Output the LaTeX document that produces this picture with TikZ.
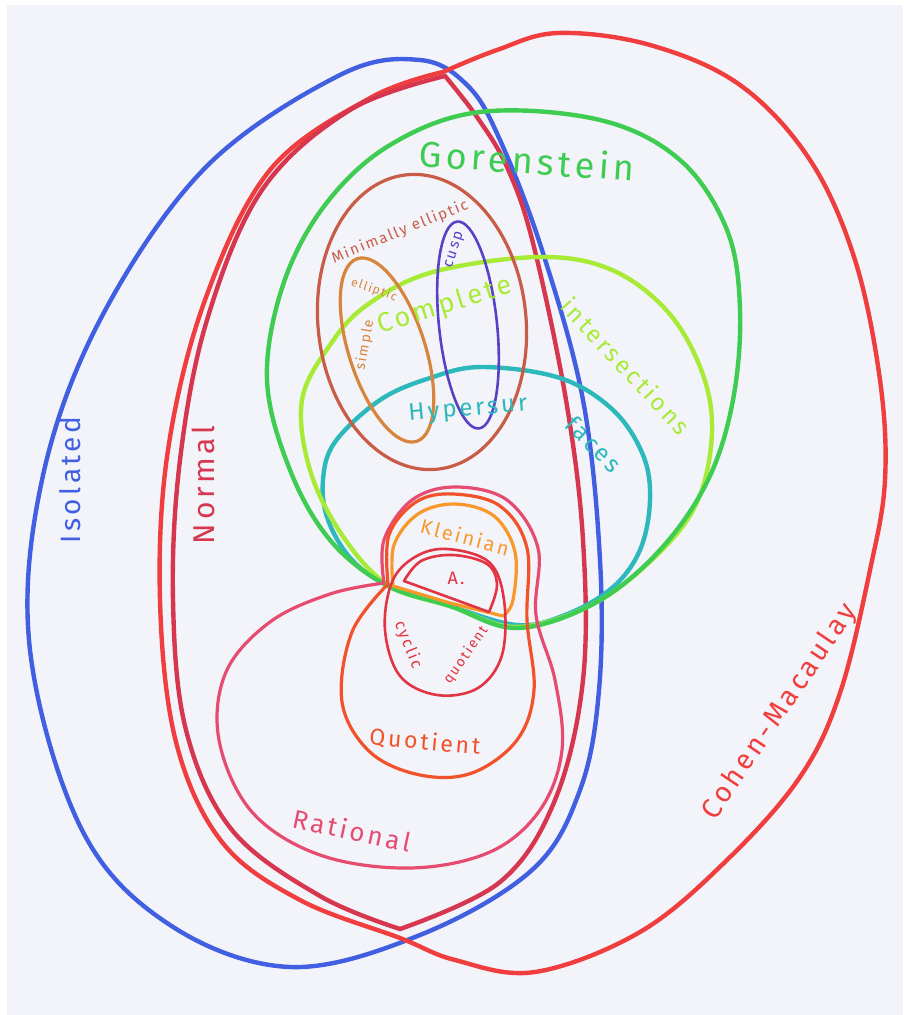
\documentclass[tikz,border=0pt]{standalone}
\usepackage{fontspec}
\newfontfamily\hand{Fira Sans}[LetterSpace=12]
\definecolor{paper}{RGB}{243,243,250}
\definecolor{cIso}{RGB}{65,95,225}
\definecolor{cCM}{RGB}{240,62,62}
\definecolor{cNorm}{RGB}{214,55,78}
\definecolor{cGor}{RGB}{62,205,82}
\definecolor{cCI}{RGB}{168,235,55}
\definecolor{cHyp}{RGB}{45,185,188}
\definecolor{cMin}{RGB}{200,92,70}
\definecolor{cSim}{RGB}{215,132,60}
\definecolor{cCusp}{RGB}{88,66,196}
\definecolor{cKlein}{RGB}{248,152,42}
\definecolor{cQuot}{RGB}{242,82,42}
\definecolor{cRat}{RGB}{230,76,112}
\definecolor{cCyc}{RGB}{226,52,66}
\tikzset{
  big/.style={line width=4.4pt, line join=round, line cap=round},
  mid/.style={line width=3.2pt, line join=round, line cap=round},
  thin/.style={line width=2.6pt, line join=round, line cap=round},
  lab/.style={inner sep=0pt, font=\hand\fontsize{#1}{#1}\selectfont},
}
\begin{document}
\begin{tikzpicture}[x=1pt,y=-1pt]
\useasboundingbox (0,0) rectangle (903,1015);
\fill[white] (0,0) rectangle (903,1015);
\fill[paper] (7,5) rectangle (903,1015);

% Isolated (blue)
\draw[big,cIso] plot[smooth cycle, tension=0.6] coordinates {
 (340,75) (420,60) (468,86) (500,140) (542,250) (583,400) (600,560) (599,690)
 (580,790) (532,870) (420,935) (290,967) (170,925) (82,830) (30,650) (42,480)
 (100,320) (205,168)};

% Cohen-Macaulay (outer red)
\draw[big,cCM] plot[smooth, tension=0.6] coordinates {
 (443,72) (497,50) (558,33) (650,45) (740,85) (810,160) (855,260) (880,380)
 (885,480) (870,570) (840,693) (800,777) (727,860) (640,932) (535,972)
 (455,960) (400,938) (300,900) (222,842) (176,742) (160,600) (168,450)
 (205,300) (270,170) (370,98) (443,72)};

% Normal (crimson lens)
\draw[big,cNorm] plot[smooth, tension=0.6] coordinates {
 (445,76) (350,110) (262,190) (207,320) (180,460) (173,600) (186,730)
 (232,830) (320,896) (400,929)};
\draw[big,cNorm] plot[smooth, tension=0.6] coordinates {
 (400,929) (500,882) (555,800) (583,680) (583,540) (566,400) (533,243)
 (507,167) (477,117) (445,76)};

% Hypersurfaces (teal)
\draw[big,cHyp] plot[smooth cycle, tension=0.6] coordinates {
 (388,585) (352,560) (328,520) (323,480) (335,442) (380,400) (430,378)
 (482,367) (560,378) (613,410) (643,455) (650,500) (640,550) (612,588)
 (565,615) (517,625) (450,606)};

% Complete intersections (lime)
\draw[big,cCI] plot[smooth cycle, tension=0.6] coordinates {
 (388,585) (342,535) (310,470) (302,400) (330,345) (367,305) (433,272)
 (540,257) (612,270) (668,312) (702,372) (712,432) (698,500) (660,552)
 (595,603) (517,627) (450,606)};

% Gorenstein (green)
\draw[big,cGor] plot[smooth cycle, tension=0.6] coordinates {
 (386,585) (330,540) (290,470) (267,380) (283,285) (325,205) (390,145)
 (480,112) (600,120) (680,160) (727,230) (740,310) (733,400) (708,480)
 (660,550) (595,603) (517,628) (450,606)};

% Minimally elliptic
\draw[mid,cMin,rotate around={6:(422,322)}] (422,322) ellipse (104 and 148);
% Simple elliptic
\draw[mid,cSim,rotate around={18:(387,350)}] (387,350) ellipse (38 and 96);
% Cusp
\draw[thin,cCusp,rotate around={6:(468,325)}] (468,325) ellipse (29 and 104);

% Rational (pink)
\draw[mid,cRat] plot[smooth, tension=0.6] coordinates {
 (384,583) (384,540) (412,500) (455,487) (507,500) (538,548) (536,615)
 (555,680) (562,750) (540,810) (490,852) (410,868) (320,855) (252,812)
 (219,740) (226,672) (270,622) (330,594) (384,583)};

% Quotient (orange-red)
\draw[mid,cQuot] plot[smooth, tension=0.6] coordinates {
 (388,584) (389,535) (416,502) (453,494) (500,506) (527,548) (527,620)
 (534,690) (517,740) (472,773) (420,775) (370,752) (342,702) (352,632)
 (388,584)};

% Kleinian (orange)
\draw[mid,cKlein] plot[smooth, tension=0.6] coordinates {
 (393,586) (394,545) (418,514) (455,504) (494,516) (515,552) (513,600)
 (503,616)} -- (450,603) -- cycle;

% Cyclic quotient
\draw[thin,cCyc] plot[smooth cycle, tension=0.6] coordinates {
 (447,549) (489,562) (504,600) (502,655) (478,688) (437,695) (400,676)
 (385,630) (392,582) (415,557)};
% A
\draw[thin,cCyc] plot[smooth, tension=0.6] coordinates {
 (489,612) (497,585) (487,564) (453,555) (421,561) (404,581)} -- cycle;

% Labels
\node[lab=28, text=cIso, rotate=90] (tIso) at (70,480) {Isolated};
\node[lab=30, text=cNorm, rotate=90] (tNorm) at (203,485) {Normal};
\node[lab=36, text=cGor, rotate=-4] (tGor) at (527,160) {Gorenstein};
\node[lab=15, text=cMin, rotate=22] (tMin) at (400,232) {Minimally elliptic};
\node[lab=15, text=cCusp, rotate=72] (tCusp) at (455,250) {cusp};
\node[lab=14, text=cSim, rotate=80] (tSim1) at (365,345) {simple};
\node[lab=12, text=cSim, rotate=-20] (tSim2) at (374,290) {elliptic};
\node[lab=27, text=cCI, rotate=17] (tComp) at (445,306) {Complete};
\node[lab=24, text=cCI, rotate=-47] (tInt) at (626,366) {intersections};
\node[lab=24, text=cHyp, rotate=5] (tHyp1) at (468,410) {Hypersur};
\node[lab=24, text=cHyp, rotate=-45] (tHyp2) at (594,444) {faces};
\node[lab=20, text=cKlein, rotate=-15] (tKlein) at (465,537) {Kleinian};
\node[lab=18, text=cCyc] (tA) at (456,578) {A.};
\node[lab=16, text=cCyc, rotate=-68] (tCyc) at (408,645) {cyclic};
\node[lab=14, text=cCyc, rotate=55] (tQuo) at (466,655) {quotient};
\node[lab=23, text=cQuot, rotate=-5] (tQuot) at (425,742) {Quotient};
\node[lab=26, text=cRat, rotate=-12] (tRat) at (352,830) {Rational};
\node[lab=28, text=cCM, rotate=56] (tCM) at (780,712) {Cohen-Macaulay};
\end{tikzpicture}
\end{document}
